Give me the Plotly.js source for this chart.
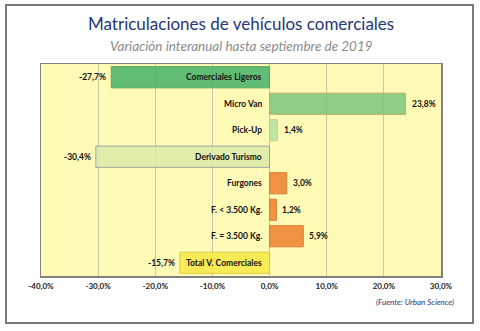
<!DOCTYPE html>
<html><head><meta charset="utf-8">
<script src="https://cdn.plot.ly/plotly-3.0.1.min.js"></script>
<style>
html,body{margin:0;padding:0;background:#fff;}
#wrap{position:relative;width:480px;height:331px;}
#chart{position:absolute;left:0;top:0;width:480px;height:331px;}
#frame{position:absolute;left:5px;top:4px;width:465px;height:316px;border:2px solid #7a7a7a;pointer-events:none;}
</style></head>
<body><div id="wrap"><div id="chart"></div><div id="frame"></div></div>
<script>
const categories = ["Comerciales Ligeros","Micro Van","Pick-Up","Derivado Turismo","Furgones","F. < 3.500 Kg.","F. = 3.500 Kg.","Total V. Comerciales"];
const values = [-27.7, 23.8, 1.4, -30.4, 3.0, 1.2, 5.9, -15.7];
const barColors = ["#4DB56B","#7FC97F","#B7E1A1","#DDEDAA","#EE8433","#EE8433","#EE8433","#F8E948"];
const borderColors = ["#3E9E58","#B8A060","#C8C890","#8E98A4","#D2752A","#D2752A","#D2752A","#D8C840"];
const tickVals = [-40,-30,-20,-10,0,10,20,30];
const tickText = ["-40,0%","-30,0%","-20,0%","-10,0%","0,0%","10,0%","20,0%","30,0%"];

const fmt = v => v.toFixed(1).replace('.', ',') + '%';
const FONT = "Lato, 'Open Sans', sans-serif";

const trace = {
  type: 'bar', orientation: 'h',
  x: values, y: categories,
  width: 0.8,
  marker: {color: barColors, line: {color: borderColors, width: 1}},
  opacity: 0.88,
  hoverinfo: 'skip'
};

const annotations = [];
categories.forEach((c, i) => {
  annotations.push({x: 0, y: c, xref: 'x', yref: 'y', text: '<b>' + c + '</b>', showarrow: false,
    xanchor: 'right', xshift: -6, font: {family: FONT, size: 8.5, color: '#111'}});
  const v = values[i];
  annotations.push({x: v, y: c, xref: 'x', yref: 'y', text: '<b>' + fmt(v) + '</b>', showarrow: false,
    xanchor: v < 0 ? 'right' : 'left', xshift: v < 0 ? -3 : 4, font: {family: FONT, size: 8.5, color: '#111'}});
});
annotations.push({xref: 'paper', yref: 'paper', x: 0.5, y: 1.193, yanchor: 'middle', showarrow: false,
  text: 'Matriculaciones de vehículos comerciales', font: {family: FONT, size: 17, color: '#1F3878'}});
annotations.push({xref: 'paper', yref: 'paper', x: 0.5, y: 1.085, yanchor: 'middle', showarrow: false,
  text: '<i>Variación interanual hasta septiembre de 2019</i>', font: {family: FONT, size: 13.5, color: '#8c8c8c'}});
annotations.push({xref: 'paper', yref: 'paper', x: 1.0375, y: -0.123, xanchor: 'right', yanchor: 'middle', showarrow: false,
  text: '<i>(Fuente: Urban Science)</i>', font: {family: FONT, size: 8, color: '#1F3878'}});

const layout = {
  width: 480, height: 331,
  margin: {l: 41, r: 39, t: 64, b: 55},
  paper_bgcolor: '#ffffff',
  plot_bgcolor: '#FFFAB6',
  showlegend: false,
  xaxis: {range: [-40, 30], tickvals: tickVals, ticktext: tickText.map(t => '<b>' + t + '</b>'), showgrid: true, gridcolor: '#C9C6A0', gridwidth: 1,
    zeroline: false, showline: true, mirror: true, linecolor: '#808080', linewidth: 1.5, ticks: '',
    tickfont: {family: FONT, size: 8, color: '#222'}, ticklabelstandoff: 2, fixedrange: true},
  yaxis: {categoryorder: 'array', categoryarray: categories, autorange: 'reversed', showticklabels: false,
    showgrid: false, zeroline: false, showline: true, mirror: true, linecolor: '#808080', linewidth: 1.5, ticks: '', fixedrange: true},
  annotations: annotations,
  bargap: 0.2
};
Plotly.newPlot('chart', [trace], layout, {displayModeBar: false, staticPlot: true});
</script></body></html>
